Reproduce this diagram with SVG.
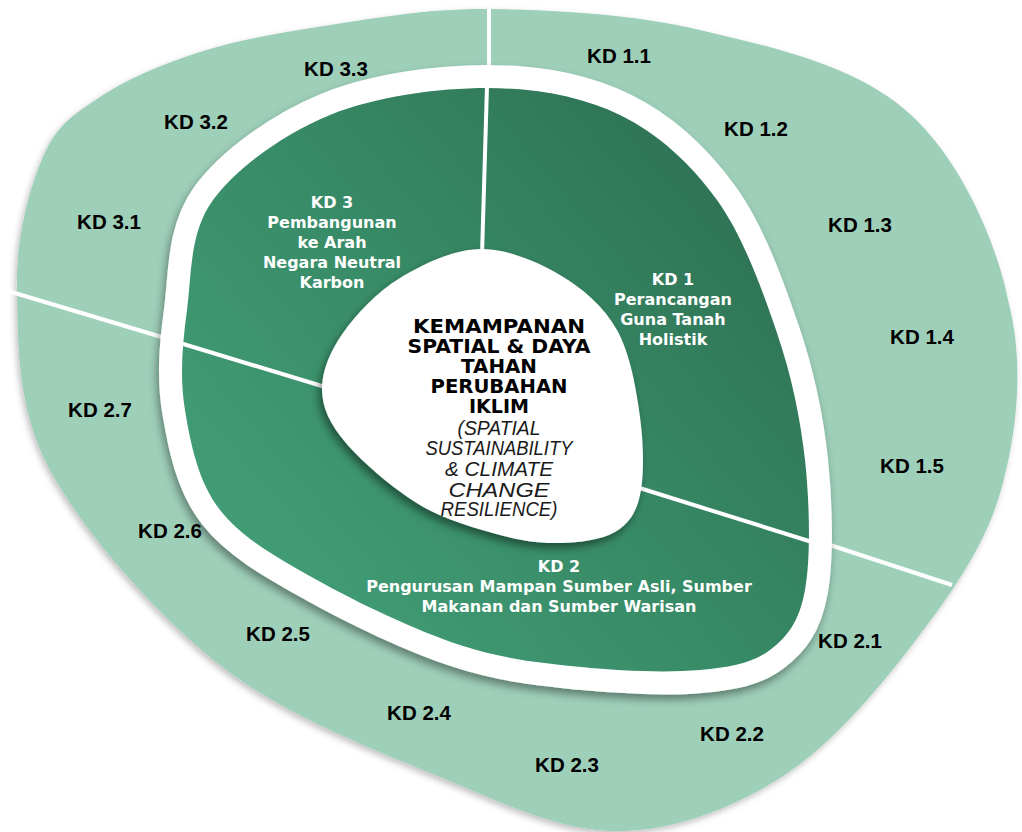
<svg xmlns="http://www.w3.org/2000/svg" width="1022" height="832" viewBox="0 0 1022 832">
<defs>
<linearGradient id="gDark" gradientUnits="userSpaceOnUse" x1="200" y1="640" x2="800" y2="120">
<stop offset="0" stop-color="#44a27a"/>
<stop offset="0.5" stop-color="#378a66"/>
<stop offset="1" stop-color="#2c6c50"/>
</linearGradient>
<filter id="shOuter" x="-10%" y="-10%" width="120%" height="120%">
<feDropShadow dx="-2" dy="3" stdDeviation="3" flood-color="#000" flood-opacity="0.25"/>
</filter>
<filter id="shBand" x="-10%" y="-10%" width="120%" height="120%">
<feDropShadow dx="-2" dy="5" stdDeviation="4" flood-color="#000" flood-opacity="0.4"/>
</filter>
<filter id="shBlob" x="-15%" y="-15%" width="130%" height="130%">
<feDropShadow dx="-3" dy="5" stdDeviation="4" flood-color="#000" flood-opacity="0.45"/>
</filter>
<path id="darkShape" d="M487,88 C535.3,88 581.7,96.3 620,115 C658.3,133.7 690.8,163.7 717,200 C743.2,236.3 762.3,289.7 777,333 C791.7,376.3 800.3,417.2 805,460 C809.7,502.8 810.8,558.3 805,590 C799.2,621.7 787.5,636.7 770,650 C752.5,663.3 731.5,667.2 700,670 C668.5,672.8 621,671.2 581,667 C541,662.8 504,659.5 460,645 C416,630.5 357,602.5 317,580 C277,557.5 242,538.3 220,510 C198,481.7 190.5,443.3 185,410 C179.5,376.7 182.3,345 187,310 C191.7,275 189.2,232.5 213,200 C236.8,167.5 284.3,133.7 330,115 C375.7,96.3 438.7,88 487,88 Z"/>
</defs>
<style>
.kd{font-family:"Liberation Sans",Arial,sans-serif;font-weight:bold;font-size:20.5px;fill:#000;text-anchor:middle}
.wt{font-family:"DejaVu Sans","Liberation Sans",sans-serif;font-weight:bold;font-size:16px;fill:#fff;text-anchor:middle}
.ct{font-family:"DejaVu Sans","Liberation Sans",sans-serif;font-weight:bold;font-size:20px;fill:#000;text-anchor:middle}
.ci{font-family:"Liberation Sans",Arial,sans-serif;font-style:italic;font-size:20px;fill:#1a1a1a;text-anchor:middle}
.div{stroke:#fff;stroke-width:4;fill:none}
</style>
<rect width="1022" height="832" fill="#fff"/>

<g id="outer-ring">
<path filter="url(#shOuter)" fill="#9ecfb9" d="M490,9 C551.7,9.8 631.7,13.5 700,30 C768.3,46.5 848.7,63 903,108 C955,150 995,235 1008,300 C1024.8,363.7 1017,432.5 1001,490 C985,547.5 948.8,597 912,645 C875.2,693 829.2,747 780,778 C730.8,809 673.7,831.2 617,831 C560.3,830.8 506.2,804.7 440,777 C373.8,749.3 285,716.2 220,665 C155,613.8 83.8,532.5 50,470 C16.2,407.5 18.2,342.2 17,290 C15.8,237.8 29.2,189.2 43,157 C56.8,124.8 73.8,114.5 100,97 C126.2,79.5 161.7,64 200,52 C238.3,40 281.7,32.2 330,25 C378.3,17.8 428.3,8.2 490,9 Z"/>
</g>

<g id="connectors">
<line class="div" x1="489" y1="0" x2="489" y2="70"/>
<line class="div" x1="8" y1="291" x2="165" y2="338"/>
<line class="div" x1="830" y1="545" x2="952" y2="585"/>
</g>

<g id="white-band">
<use href="#darkShape" fill="#fff" stroke="#fff" stroke-width="46" stroke-linejoin="round" filter="url(#shBand)"/>
</g>

<g id="inner-ring">
<use href="#darkShape" fill="url(#gDark)"/>
<line class="div" x1="487" y1="86" x2="482" y2="255"/>
<line class="div" x1="180" y1="343" x2="335" y2="390"/>
<line class="div" x1="630" y1="485" x2="812" y2="542"/>
</g>

<g id="node-center">
<path filter="url(#shBlob)" fill="#fff" d="M480,249 C506.7,248.5 537.2,261.5 560,275 C582.8,288.5 603.7,306.3 617,330 C630.3,353.7 636.2,389.5 640,417 C643.8,444.5 644.2,475.8 640,495 C635.8,514.2 628.3,524 615,532 C601.7,540 579.2,542.5 560,543 C540.8,543.5 523.3,541.3 500,535 C476.7,528.7 445.7,520.3 420,505 C394.3,489.7 362.3,462.2 346,443 C329.7,423.8 322.5,408.3 322,390 C321.5,371.7 330,351.7 343,333 C356,314.3 377.2,292 400,278 C422.8,264 453.3,249.5 480,249 Z"/>
<text class="ct" x="499" y="333" textLength="172" lengthAdjust="spacingAndGlyphs">KEMAMPANAN</text>
<text class="ct" x="499" y="353" textLength="183" lengthAdjust="spacingAndGlyphs">SPATIAL &amp; DAYA</text>
<text class="ct" x="499" y="373" textLength="76" lengthAdjust="spacingAndGlyphs">TAHAN</text>
<text class="ct" x="499" y="393" textLength="137" lengthAdjust="spacingAndGlyphs">PERUBAHAN</text>
<text class="ct" x="499" y="413" textLength="60" lengthAdjust="spacingAndGlyphs">IKLIM</text>
<text class="ci" x="499" y="435" textLength="83" lengthAdjust="spacingAndGlyphs">(SPATIAL</text>
<text class="ci" x="499" y="455" textLength="147" lengthAdjust="spacingAndGlyphs">SUSTAINABILITY</text>
<text class="ci" x="499" y="476" textLength="108" lengthAdjust="spacingAndGlyphs">&amp; CLIMATE</text>
<text class="ci" x="499" y="497" textLength="101" lengthAdjust="spacingAndGlyphs">CHANGE</text>
<text class="ci" x="499" y="516" textLength="117" lengthAdjust="spacingAndGlyphs">RESILIENCE)</text>
</g>

<g id="node-kd1">
<text class="wt" x="673" y="285">KD 1</text>
<text class="wt" x="673" y="305">Perancangan</text>
<text class="wt" x="673" y="325">Guna Tanah</text>
<text class="wt" x="673" y="345">Holistik</text>
</g>
<g id="node-kd2">
<text class="wt" x="559" y="572">KD 2</text>
<text class="wt" x="559" y="592">Pengurusan Mampan Sumber Asli, Sumber</text>
<text class="wt" x="559" y="612">Makanan dan Sumber Warisan</text>
</g>
<g id="node-kd3">
<text class="wt" x="332" y="208">KD 3</text>
<text class="wt" x="332" y="228">Pembangunan</text>
<text class="wt" x="332" y="248">ke Arah</text>
<text class="wt" x="332" y="268">Negara Neutral</text>
<text class="wt" x="332" y="288">Karbon</text>
</g>

<g id="node-kd1-items">
<text class="kd" x="619" y="63">KD 1.1</text>
<text class="kd" x="756" y="136">KD 1.2</text>
<text class="kd" x="860" y="232">KD 1.3</text>
<text class="kd" x="922" y="344">KD 1.4</text>
<text class="kd" x="912" y="473">KD 1.5</text>
</g>
<g id="node-kd2-items">
<text class="kd" x="850" y="648">KD 2.1</text>
<text class="kd" x="732" y="741">KD 2.2</text>
<text class="kd" x="567" y="772">KD 2.3</text>
<text class="kd" x="419" y="720">KD 2.4</text>
<text class="kd" x="278" y="641">KD 2.5</text>
<text class="kd" x="170" y="538">KD 2.6</text>
<text class="kd" x="100" y="417">KD 2.7</text>
</g>
<g id="node-kd3-items">
<text class="kd" x="109" y="229">KD 3.1</text>
<text class="kd" x="196" y="129">KD 3.2</text>
<text class="kd" x="336" y="76">KD 3.3</text>
</g>
</svg>
